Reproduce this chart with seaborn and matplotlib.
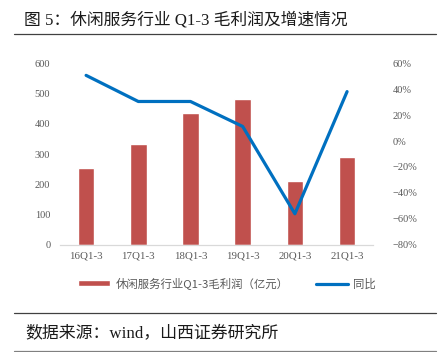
import numpy as np
import pandas as pd
import matplotlib
matplotlib.use("Agg")
import matplotlib.pyplot as plt
import seaborn as sns
from matplotlib.patches import Patch
from matplotlib.lines import Line2D
from matplotlib.ticker import FuncFormatter

# 休闲服务行业 Q1-3 毛利润及增速
categories = ["16Q1-3", "17Q1-3", "18Q1-3", "19Q1-3", "20Q1-3", "21Q1-3"]
profit = [255, 334, 435, 482, 211, 291]        # 亿元
yoy = [50.5, 30.4, 30.4, 11.2, -56.0, 38.0]    # %

bar_label = "休闲服务行业Q1-3毛利润（亿元）"
line_label = "同比"
title = "图 5：休闲服务行业 Q1-3 毛利润及增速情况"
source = "数据来源：wind，山西证券研究所"

sns.set_style("white")
plt.rcParams["font.family"] = ["Noto Sans CJK SC", "DejaVu Sans"]
serif = ["Liberation Serif", "Noto Sans CJK SC"]
tick_color = "#595959"

df = pd.DataFrame({"cat": categories, "profit": profit, "yoy": yoy})
df["pos"] = np.arange(len(df))

fig = plt.figure(figsize=(4.38, 3.52), dpi=100)
ax = fig.add_axes([0.137, 0.304, 0.715, 0.517])

sns.barplot(data=df, x="pos", y="profit", color="#C0504D", width=0.32,
            saturation=1, ax=ax)
ax.set_ylim(0, 600)
ax.set_yticks(range(0, 601, 100))
ax.set_xlim(-0.5, len(df) - 0.5)
ax.set_xticks(df["pos"])
ax.set_xticklabels(categories, family=serif, fontsize=7.8, color=tick_color)
ax.set_xticks(np.arange(-0.5, len(df), 1), minor=True)
ax.tick_params(axis="x", which="major", length=0, pad=5)
ax.tick_params(axis="x", which="minor", length=3, color="#D9D9D9", width=0.8)
ax.tick_params(axis="y", length=0, labelsize=7.5, labelcolor=tick_color, pad=7)
for lab in ax.get_yticklabels():
    lab.set_family(serif)
ax.set_xlabel("")
ax.set_ylabel("")
for s in ["top", "right", "left"]:
    ax.spines[s].set_visible(False)
ax.spines["bottom"].set_color("#D9D9D9")
ax.spines["bottom"].set_linewidth(0.9)

ax2 = ax.twinx()
sns.lineplot(data=df, x="pos", y="yoy", color="#0070C0", linewidth=2.3, ax=ax2,
             solid_capstyle="round")
ax2.set_ylim(-80, 60)
ax2.set_yticks(range(-80, 61, 20))
ax2.yaxis.set_major_formatter(FuncFormatter(lambda v, p: f"{int(v)}%".replace("-", "−")))
ax2.tick_params(axis="y", length=0, labelsize=7.5, labelcolor=tick_color, pad=14)
for lab in ax2.get_yticklabels():
    lab.set_family(serif)
ax2.set_xlabel("")
ax2.set_ylabel("")
for s in ax2.spines.values():
    s.set_visible(False)
ax2.set_xlim(-0.5, len(df) - 0.5)

handles = [Patch(facecolor="#C0504D", label=bar_label),
           Line2D([0], [0], color="#0070C0", linewidth=2.3, label=line_label)]
leg = fig.legend(handles=handles, loc="center", bbox_to_anchor=(227 / 438, 0.195), ncol=2,
                 frameon=False, fontsize=8.2, handlelength=2.8, handleheight=0.45,
                 columnspacing=2.4, handletextpad=0.45)
for t in leg.get_texts():
    t.set_color(tick_color)

fig.text(0.055, 0.943, title, fontsize=12.1, color="#1a1a1a", va="center", family=serif)
fig.add_artist(Line2D([0.033, 0.995], [0.903, 0.903], color="#404040", linewidth=0.9))
fig.add_artist(Line2D([0.033, 0.995], [0.111, 0.111], color="#404040", linewidth=0.9))
fig.add_artist(Line2D([0.033, 0.995], [0.004, 0.004], color="#808080", linewidth=0.9))
fig.text(0.057, 0.054, source, fontsize=12.2, color="#1a1a1a", va="center", family=serif)

fig.savefig("out.png", dpi=100)
